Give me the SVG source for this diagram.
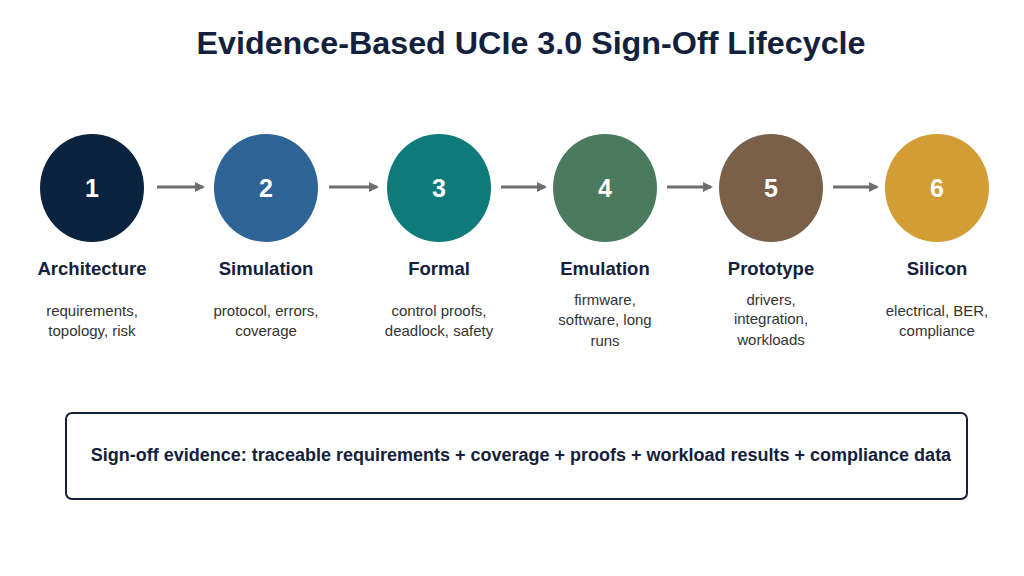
<svg xmlns="http://www.w3.org/2000/svg" width="1024" height="576" viewBox="0 0 1024 576">
<style>
.title{font-family:"Liberation Sans",Arial,sans-serif;font-weight:bold;font-size:32px;fill:#14213d;text-anchor:middle}
.num{font-family:"Liberation Sans",Arial,sans-serif;font-weight:bold;font-size:25px;fill:#ffffff;text-anchor:middle}
.lbl{font-family:"Liberation Sans",Arial,sans-serif;font-weight:bold;font-size:18.5px;fill:#14213d;text-anchor:middle}
.desc{font-family:"Liberation Sans",Arial,sans-serif;font-size:15px;fill:#333333;text-anchor:middle}
.ev{font-family:"Liberation Sans",Arial,sans-serif;font-weight:bold;font-size:18px;fill:#14213d;text-anchor:middle}
.conn{stroke:#6e6e6e;stroke-width:3;fill:none;marker-end:url(#ah)}
</style>
<defs>
<marker id="ah" markerWidth="10" markerHeight="10" refX="8" refY="5" orient="auto" markerUnits="userSpaceOnUse">
<path d="M0,0 L10,5 L0,10 Z" fill="#6e6e6e"/>
</marker>
</defs>
<rect width="1024" height="576" fill="#ffffff"/>
<text class="title" x="531" y="54" textLength="669" lengthAdjust="spacingAndGlyphs">Evidence-Based UCIe 3.0 Sign-Off Lifecycle</text>
<g id="connectors">
<line class="conn" x1="157" y1="187" x2="203" y2="187"/>
<line class="conn" x1="329" y1="187" x2="377" y2="187"/>
<line class="conn" x1="501" y1="187" x2="545" y2="187"/>
<line class="conn" x1="667" y1="187" x2="711" y2="187"/>
<line class="conn" x1="833" y1="187" x2="877" y2="187"/>
</g>
<g id="node1">
<ellipse cx="92" cy="188" rx="52" ry="54" fill="#0c2340"/>
<text class="num" x="92" y="197">1</text>
<text class="lbl" x="92" y="275">Architecture</text>
<text class="desc" x="92" y="316">requirements,</text>
<text class="desc" x="92" y="336">topology, risk</text>
</g>
<g id="node2">
<ellipse cx="266" cy="188" rx="52" ry="54" fill="#2e6395"/>
<text class="num" x="266" y="197">2</text>
<text class="lbl" x="266" y="275">Simulation</text>
<text class="desc" x="266" y="316">protocol, errors,</text>
<text class="desc" x="266" y="336">coverage</text>
</g>
<g id="node3">
<ellipse cx="439" cy="188" rx="52" ry="54" fill="#0f7a7a"/>
<text class="num" x="439" y="197">3</text>
<text class="lbl" x="439" y="275">Formal</text>
<text class="desc" x="439" y="316">control proofs,</text>
<text class="desc" x="439" y="336">deadlock, safety</text>
</g>
<g id="node4">
<ellipse cx="605" cy="188" rx="52" ry="54" fill="#4b7a5f"/>
<text class="num" x="605" y="197">4</text>
<text class="lbl" x="605" y="275">Emulation</text>
<text class="desc" x="605" y="305">firmware,</text>
<text class="desc" x="605" y="325">software, long</text>
<text class="desc" x="605" y="346">runs</text>
</g>
<g id="node5">
<ellipse cx="771" cy="188" rx="52" ry="54" fill="#7b6049"/>
<text class="num" x="771" y="197">5</text>
<text class="lbl" x="771" y="275">Prototype</text>
<text class="desc" x="771" y="305">drivers,</text>
<text class="desc" x="771" y="324">integration,</text>
<text class="desc" x="771" y="345">workloads</text>
</g>
<g id="node6">
<ellipse cx="937" cy="188" rx="52" ry="54" fill="#d19d34"/>
<text class="num" x="937" y="197">6</text>
<text class="lbl" x="937" y="275">Silicon</text>
<text class="desc" x="937" y="316">electrical, BER,</text>
<text class="desc" x="937" y="336">compliance</text>
</g>
<g id="evidence">
<rect x="66" y="413" width="901" height="86" rx="6" fill="#ffffff" stroke="#14213d" stroke-width="2"/>
<text class="ev" x="521" y="461">Sign-off evidence: traceable requirements + coverage + proofs + workload results + compliance data</text>
</g>
</svg>
